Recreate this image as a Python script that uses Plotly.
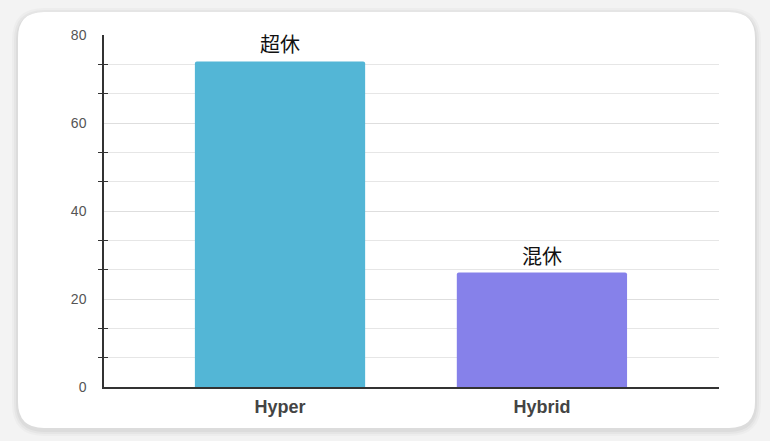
import plotly.graph_objects as go

categories = ["Hyper", "Hybrid"]
values = [74, 26]
bar_labels = ["超休", "混休"]
bar_colors = ["#53b6d6", "#8681ea"]
y_ticks = [0, 20, 40, 60, 80]

W, H = 770, 441
ML, MR, MT, MB = 104, 51, 35, 54
PW, PH = W - ML - MR, H - MT - MB

minor_vals = [a + k * (b - a) / 3 for a, b in zip(y_ticks[:-1], y_ticks[1:]) for k in (1, 2)]


def px_x(p):
    return (p - ML) / PW


def px_y(p):
    return (H - MB - p) / PH


def rounded_rect(x0, y0, x1, y1, r):
    pts = [
        f"M {px_x(x0 + r)} {px_y(y0)}",
        f"L {px_x(x1 - r)} {px_y(y0)}",
        f"Q {px_x(x1)} {px_y(y0)} {px_x(x1)} {px_y(y0 + r)}",
        f"L {px_x(x1)} {px_y(y1 - r)}",
        f"Q {px_x(x1)} {px_y(y1)} {px_x(x1 - r)} {px_y(y1)}",
        f"L {px_x(x0 + r)} {px_y(y1)}",
        f"Q {px_x(x0)} {px_y(y1)} {px_x(x0)} {px_y(y1 - r)}",
        f"L {px_x(x0)} {px_y(y0 + r)}",
        f"Q {px_x(x0)} {px_y(y0)} {px_x(x0 + r)} {px_y(y0)}",
        "Z",
    ]
    return " ".join(pts)


fig = go.Figure()
fig.add_trace(go.Bar(
    x=categories, y=values, width=0.65,
    marker=dict(color=bar_colors, line=dict(width=0), cornerradius=2),
    hoverinfo="skip", showlegend=False,
))
fig.add_trace(go.Scatter(x=categories, y=values, yaxis="y2", mode="markers",
                         marker=dict(opacity=0), hoverinfo="skip", showlegend=False))

for c, v, t in zip(categories, values, bar_labels):
    fig.add_annotation(x=c, y=v, text=t, showarrow=False, yanchor="bottom", yshift=1,
                       font=dict(family="Noto Sans CJK SC", size=20, color="#111111"))

shapes = []
for off, a in [(6, 0.025), (4, 0.03), (2, 0.04)]:
    shapes.append(dict(type="path", xref="paper", yref="paper", layer="below",
                       path=rounded_rect(18 - off, 12 - off + 2, 755 + off, 428 + off + 2, 26 + off),
                       fillcolor=f"rgba(0,0,0,{a})", line=dict(width=0)))
shapes.append(dict(type="path", xref="paper", yref="paper", layer="below",
                   path=rounded_rect(18, 12, 755, 428, 26),
                   fillcolor="#ffffff", line=dict(width=0)))

yax_common = dict(range=[0, 80], tickvals=y_ticks)

fig.update_layout(
    width=W, height=H,
    margin=dict(l=ML, r=MR, t=MT, b=MB),
    paper_bgcolor="#f3f3f3",
    plot_bgcolor="rgba(0,0,0,0)",
    shapes=shapes,
    xaxis=dict(
        range=[-0.672, 1.676], showgrid=False, showline=True, linecolor="#333333",
        linewidth=1.5, ticks="", ticklabelstandoff=3,
        tickfont=dict(family="Liberation Sans", size=18, color="#444444", weight="bold"),
    ),
    yaxis=dict(
        **yax_common, showline=True, linecolor="#333333", linewidth=1.5,
        showgrid=True, gridcolor="#dedede", gridwidth=1,
        ticks="", ticklabelstandoff=13, zeroline=False,
        tickfont=dict(family="Liberation Sans", size=14, color="#555555"),
        minor=dict(tickmode="array", tickvals=minor_vals, showgrid=True, gridcolor="#e6e6e6",
                   gridwidth=1, ticks="outside", ticklen=4, tickcolor="#333333", tickwidth=1.3),
    ),
    yaxis2=dict(
        **yax_common, overlaying="y", side="left", showline=False, showgrid=False,
        showticklabels=False, ticks="", zeroline=False,
        minor=dict(tickmode="array", tickvals=minor_vals, showgrid=False,
                   ticks="inside", ticklen=4, tickcolor="#333333", tickwidth=1.3),
    ),
)

fig.write_html(
    "out.html",
    config={"displayModeBar": False},
    post_script="document.body.style.margin='0';document.body.style.background='#f3f3f3';",
)
